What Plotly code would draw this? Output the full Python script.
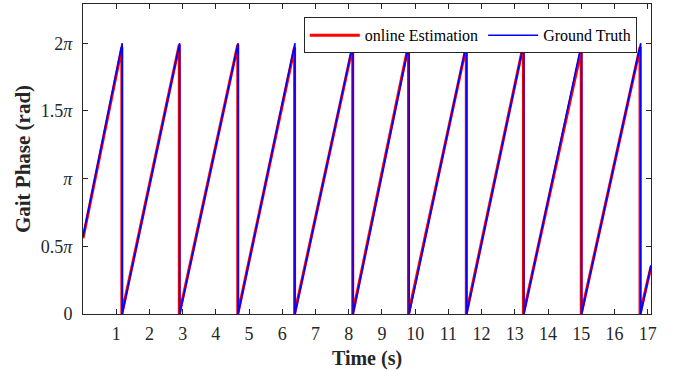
import numpy as np
import plotly.graph_objects as go

PI = np.pi

# ---- data ----
# Ground truth: times (s) where phase resets from 2π to 0, and peak values (in units of π)
gt_reset_times = [1.18, 2.91, 4.67, 6.38, 8.13, 9.82, 11.55, 13.27, 15.01, 16.79]
gt_peaks = [2.0, 2.0, 2.0, 2.0, 2.0, 2.0, 2.0, 2.0, 2.0, 2.0]
gt_start = 0.57   # phase at t=0 (π units)
gt_end = 0.36     # phase at t=17.1 (π units)

# Online estimation
est_reset_times = [1.17, 2.90, 4.66, 6.37, 8.12, 9.80, 11.54, 13.26, 15.00, 16.77]
est_peaks = [1.97, 1.99, 1.99, 1.97, 1.98, 1.99, 1.98, 1.99, 1.95, 1.97]
est_start = 0.56
est_end = 0.35

t_start = 0.0
t_end = 17.1

x_ticks = list(range(1, 18))
y_tick_vals = [0, 0.5, 1.0, 1.5, 2.0]
y_tick_text = ["0", "0.5<i>π</i>", "<i>π</i>", "1.5<i>π</i>", "2<i>π</i>"]


def sawtooth(resets, peaks, start, end):
    xs = [t_start]
    ys = [start * PI]
    for t, p in zip(resets, peaks):
        xs += [t, t]
        ys += [p * PI, 0.0]
    xs.append(t_end)
    ys.append(end * PI)
    return xs, ys


ex, ey = sawtooth(est_reset_times, est_peaks, est_start, est_end)
gx, gy = sawtooth(gt_reset_times, gt_peaks, gt_start, gt_end)

FONT = "Times New Roman, Liberation Serif, serif"
AX = "#262626"

fig = go.Figure()
fig.add_trace(go.Scatter(x=ex, y=ey, mode="lines", name="online Estimation",
                         line=dict(color="#FF0000", width=3)))
fig.add_trace(go.Scatter(x=gx, y=gy, mode="lines", name="Ground Truth",
                         line=dict(color="#0000FF", width=1.6)))

fig.update_layout(
    width=677, height=372,
    margin=dict(l=83, r=26, t=4, b=58),
    paper_bgcolor="white", plot_bgcolor="white",
    font=dict(family=FONT, color=AX, size=18),
    showlegend=True,
    legend=dict(orientation="h", x=0.975, y=0.957, xanchor="right", yanchor="top",
                bgcolor="white", bordercolor=AX, borderwidth=1,
                font=dict(family=FONT, size=16, color="#000000"),
                itemwidth=50, tracegroupgap=0),
)
fig.update_xaxes(
    range=[t_start, t_end], tickvals=x_ticks, ticktext=[str(v) for v in x_ticks],
    showgrid=False, zeroline=False, showline=True, linecolor=AX, linewidth=1,
    mirror="allticks", ticks="inside", ticklen=5, tickcolor=AX,
    tickfont=dict(family=FONT, size=18, color=AX), ticklabelstandoff=3,
    title=dict(text="<b>Time (s)</b>", font=dict(family=FONT, size=20, color=AX), standoff=8),
)
fig.update_yaxes(
    range=[0, 2.29 * PI], tickvals=[v * PI for v in y_tick_vals], ticktext=y_tick_text,
    showgrid=False, zeroline=False, showline=True, linecolor=AX, linewidth=1,
    mirror="allticks", ticks="inside", ticklen=5, tickcolor=AX,
    tickfont=dict(family=FONT, size=18, color=AX), ticklabelstandoff=6,
    title=dict(text="<b>Gait Phase (rad)</b>", font=dict(family=FONT, size=21, color=AX), standoff=4),
)

fig.write_html("out.html", config={"displayModeBar": False},
               post_script="document.body.style.margin='0';")
